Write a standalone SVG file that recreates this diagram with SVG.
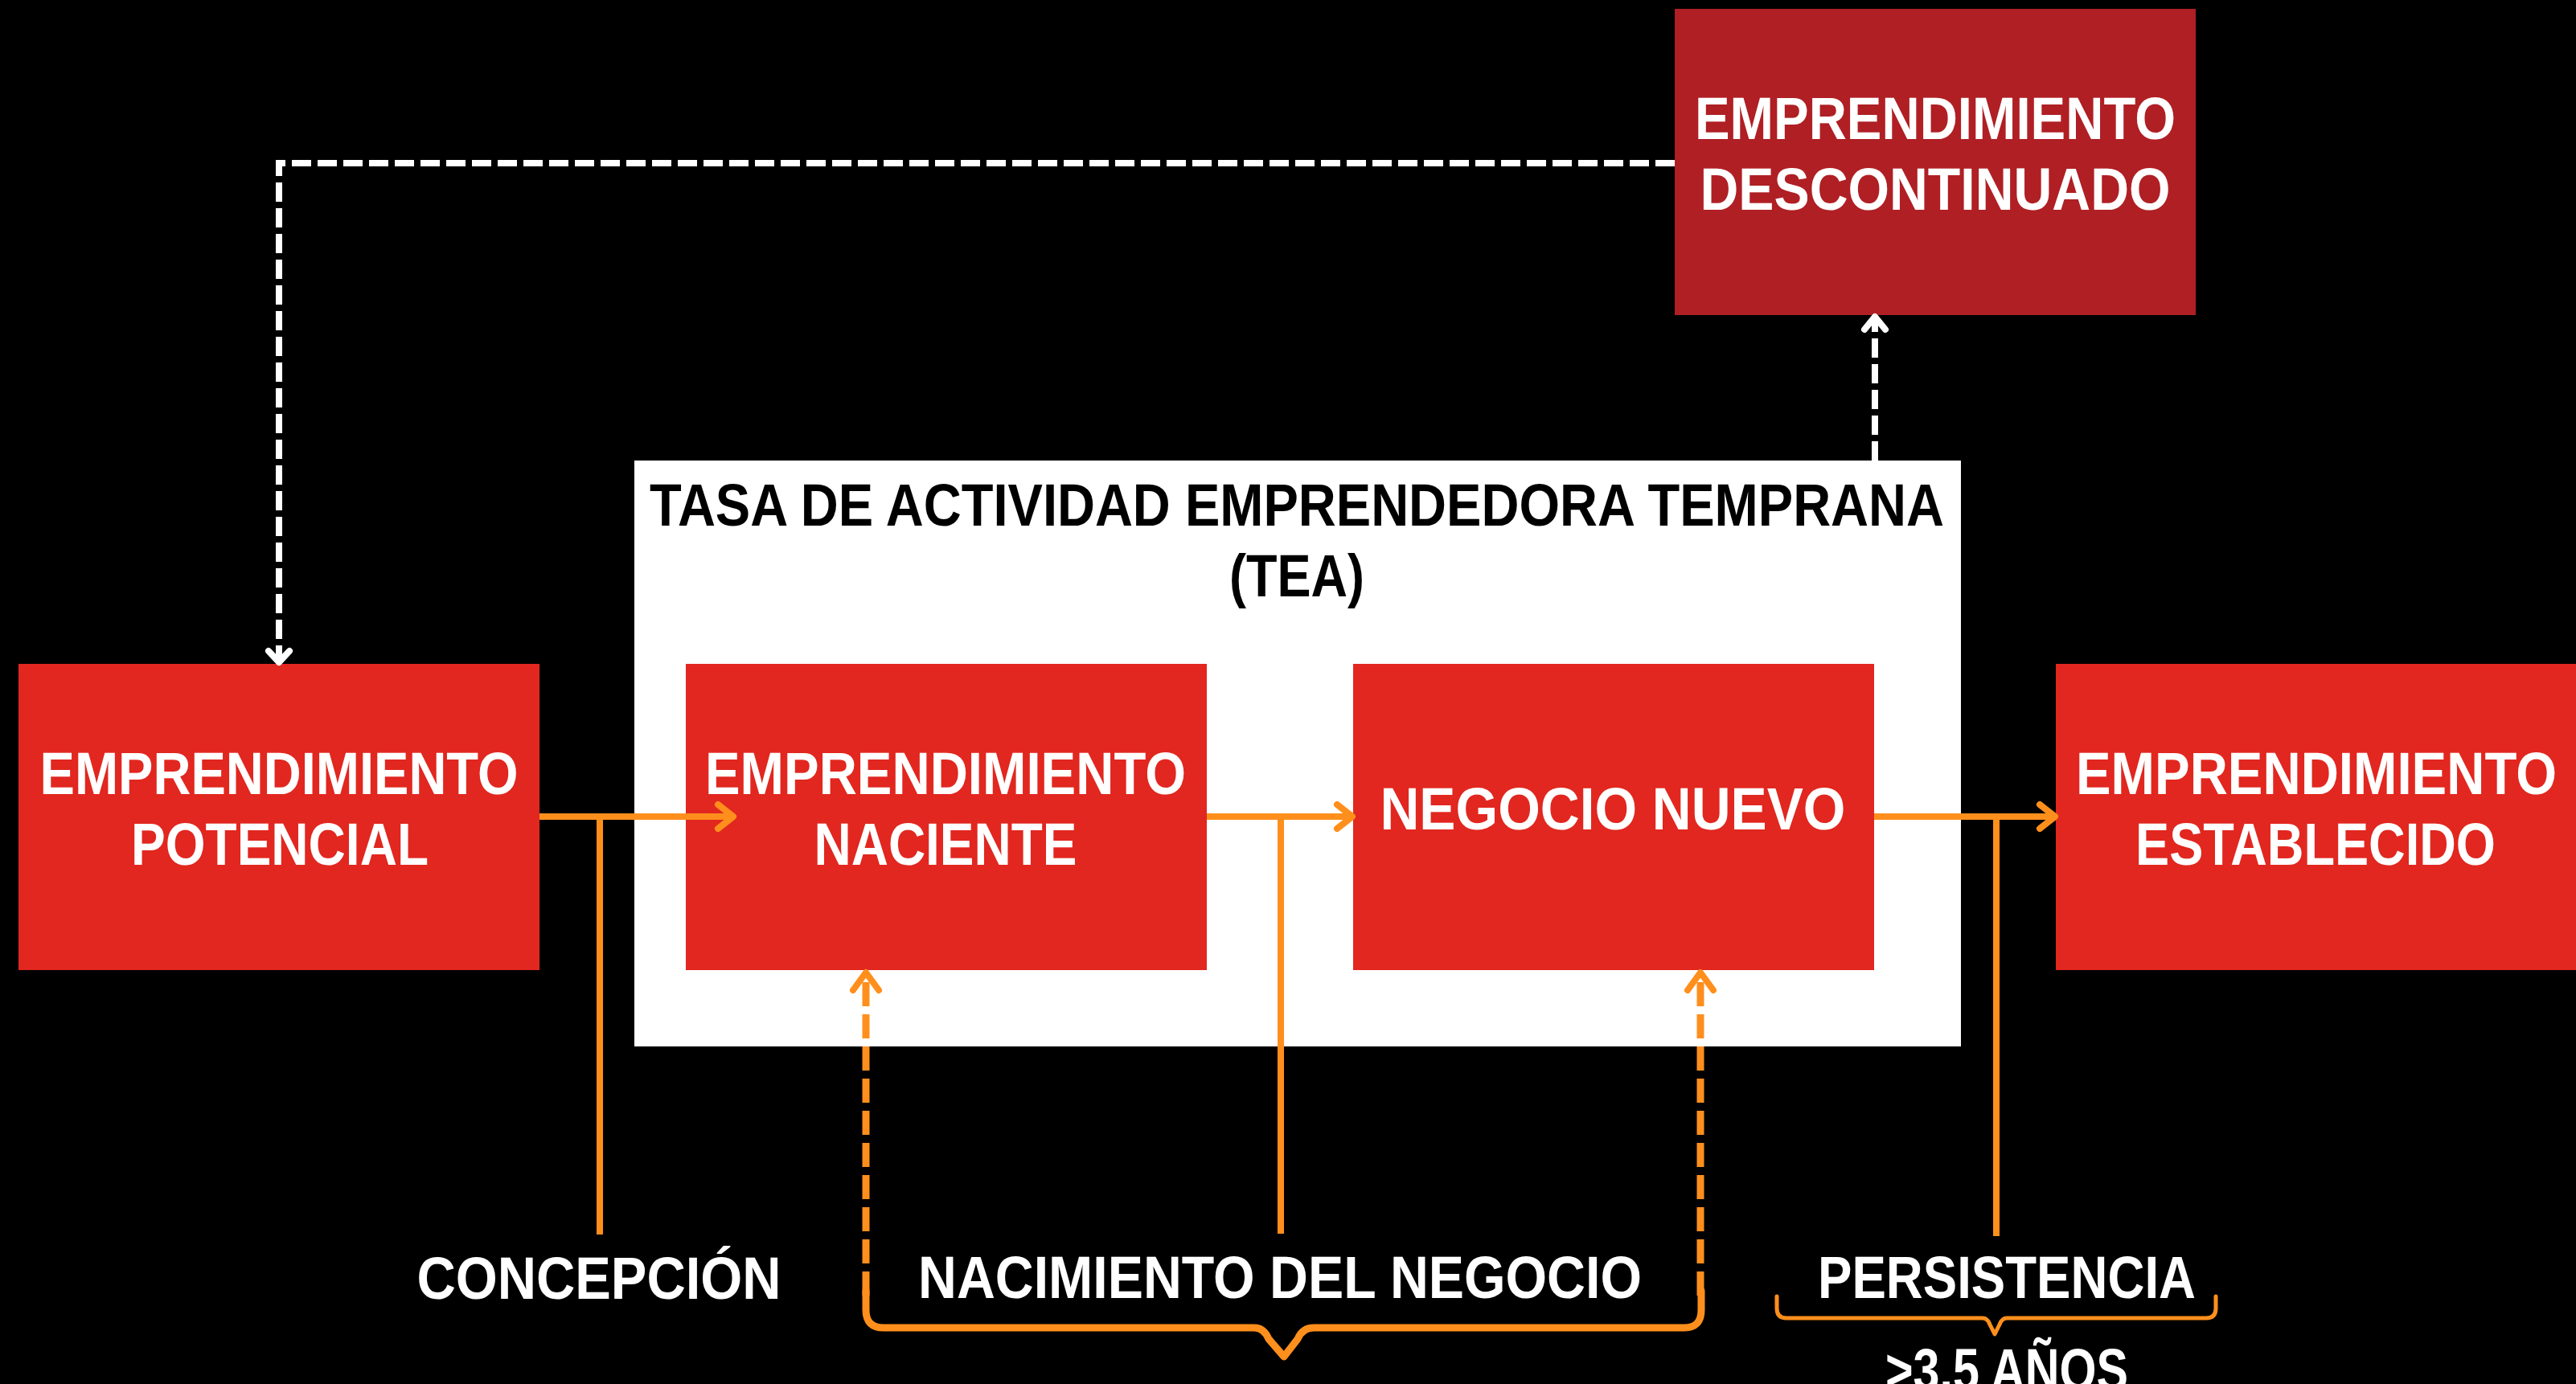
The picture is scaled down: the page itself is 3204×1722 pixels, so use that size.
<svg xmlns="http://www.w3.org/2000/svg" width="3204" height="1722" viewBox="0 0 3204 1722">
<style>
.bg{fill:#000}
.box{fill:#E1271F}
.dark{fill:#AF1F24}
.tea{fill:#FFFFFF}
.t{font-family:"Liberation Sans",Arial,sans-serif;font-weight:bold;font-size:74px;fill:#FFFFFF;text-anchor:middle}
.tb{fill:#000000}
.o{stroke:#FF8F1C;stroke-width:8;fill:none}
.od{stroke:#FF8F1C;stroke-width:9;fill:none;stroke-dasharray:30 10}
.oh{stroke:#FF8F1C;stroke-width:8;fill:none;stroke-linecap:round;stroke-linejoin:round}
.w{stroke:#FFFFFF;stroke-width:8;fill:none;stroke-dasharray:24 8}
.wh{stroke:#FFFFFF;stroke-width:8;fill:none;stroke-linecap:round;stroke-linejoin:round}
.br{stroke:#FF8F1C;stroke-width:9;fill:none;stroke-linejoin:round;stroke-linecap:round}
.br2{stroke:#FF8F1C;stroke-width:5;fill:none;stroke-linejoin:round;stroke-linecap:round}
</style>
<rect class="bg" x="0" y="0" width="3204" height="1722"/>

<g id="tea">
<rect class="tea" x="789" y="573" width="1650" height="729"/>
<text class="t tb" x="1613" y="654" textLength="1610" lengthAdjust="spacingAndGlyphs">TASA DE ACTIVIDAD EMPRENDEDORA TEMPRANA</text>
<text class="t tb" x="1613" y="742" textLength="168" lengthAdjust="spacingAndGlyphs">(TEA)</text>
</g>

<g id="descontinuado">
<rect class="dark" x="2083" y="11" width="648" height="381"/>
<text class="t" x="2407" y="173" textLength="598" lengthAdjust="spacingAndGlyphs">EMPRENDIMIENTO</text>
<text class="t" x="2407" y="261" textLength="585" lengthAdjust="spacingAndGlyphs">DESCONTINUADO</text>
</g>

<g id="potencial">
<rect class="box" x="23" y="826" width="648" height="381"/>
<text class="t" x="347" y="988" textLength="595" lengthAdjust="spacingAndGlyphs">EMPRENDIMIENTO</text>
<text class="t" x="348" y="1076" textLength="370" lengthAdjust="spacingAndGlyphs">POTENCIAL</text>
</g>

<g id="naciente">
<rect class="box" x="853" y="826" width="648" height="381"/>
<text class="t" x="1176" y="988" textLength="598" lengthAdjust="spacingAndGlyphs">EMPRENDIMIENTO</text>
<text class="t" x="1176" y="1076" textLength="327" lengthAdjust="spacingAndGlyphs">NACIENTE</text>
</g>

<g id="negocio-nuevo">
<rect class="box" x="1683" y="826" width="648" height="381"/>
<text class="t" x="2006" y="1032" textLength="579" lengthAdjust="spacingAndGlyphs">NEGOCIO NUEVO</text>
</g>

<g id="establecido">
<rect class="box" x="2557" y="826" width="648" height="381"/>
<text class="t" x="2881" y="988" textLength="598" lengthAdjust="spacingAndGlyphs">EMPRENDIMIENTO</text>
<text class="t" x="2880" y="1076" textLength="448" lengthAdjust="spacingAndGlyphs">ESTABLECIDO</text>
</g>

<g id="connectors">
<!-- white dashed feedback -->
<path class="w" d="M2083 203 L347 203 L347 818"/>
<path class="wh" d="M334 810 L347 824 L360 810"/>
<path class="w" d="M2332 573 L2332 396"/>
<path class="wh" d="M2319 410 L2332 394 L2345 410"/>

<!-- main orange flow -->
<path class="o" d="M671 1016 L910 1016"/>
<path class="oh" d="M893 1001 L912 1016 L893 1031"/>
<path class="o" d="M1501 1016 L1680 1016"/>
<path class="oh" d="M1663 1001 L1682 1016 L1663 1031"/>
<path class="o" d="M2331 1016 L2555 1016"/>
<path class="oh" d="M2537 1001 L2556 1016 L2537 1031"/>

<!-- vertical stems -->
<path class="o" d="M746 1018 L746 1536"/>
<path class="o" d="M1593 1018 L1593 1535"/>
<path class="o" d="M2483 1018 L2483 1538"/>

<!-- orange dashed up arrows -->
<path class="od" d="M1077 1612 L1077 1212"/>
<path class="oh" d="M1061 1232 L1077 1210 L1093 1232"/>
<path class="od" d="M2115 1612 L2115 1212"/>
<path class="oh" d="M2099 1232 L2115 1210 L2131 1232"/>

<!-- braces -->
<path class="br" d="M1077 1606 L1077 1630 Q1077 1652 1099 1652 L1560 1652 Q1572 1652 1578 1666 L1597 1688 L1614 1666 Q1620 1652 1634 1652 L2095 1652 Q2116 1652 2116 1630 L2116 1606"/>
<path class="br2" d="M2210 1613 L2210 1628 Q2210 1640 2222 1640 L2466 1640 Q2472 1640 2475 1648 L2481 1660 L2487 1648 Q2490 1640 2496 1640 L2744 1640 Q2756 1640 2756 1628 L2756 1613"/>
</g>

<g id="labels">
<text class="t" x="745" y="1616" textLength="453" lengthAdjust="spacingAndGlyphs">CONCEPCIÓN</text>
<text class="t" x="1592" y="1615" textLength="900" lengthAdjust="spacingAndGlyphs">NACIMIENTO DEL NEGOCIO</text>
<text class="t" x="2496" y="1615" textLength="470" lengthAdjust="spacingAndGlyphs">PERSISTENCIA</text>
<text class="t" x="2496" y="1730" textLength="302" lengthAdjust="spacingAndGlyphs">&gt;3.5 AÑOS</text>
</g>
</svg>
